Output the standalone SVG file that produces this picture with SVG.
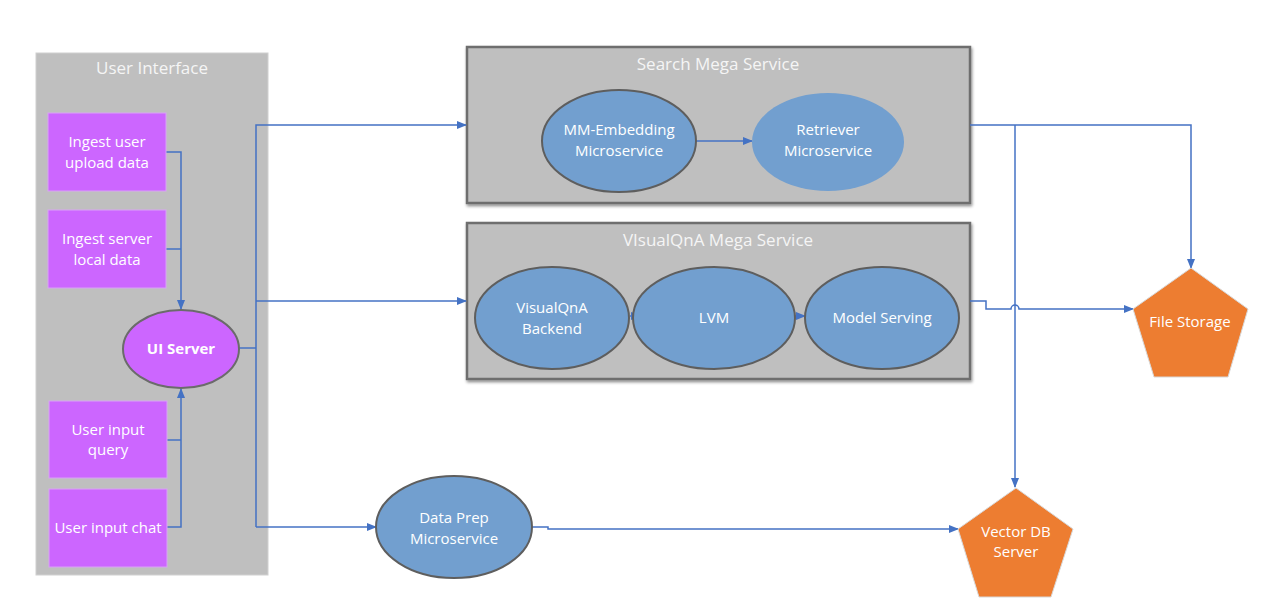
<svg xmlns="http://www.w3.org/2000/svg" width="1286" height="615" viewBox="0 0 1286 615">
<defs>
<marker id="arr" markerWidth="10" markerHeight="8" refX="9" refY="4" orient="auto" markerUnits="userSpaceOnUse">
<path d="M0,0 L10,4 L0,8 Z" fill="#4472c4"/>
</marker>
<filter id="sh" x="-5%" y="-5%" width="110%" height="115%">
<feDropShadow dx="1" dy="2" stdDeviation="1.5" flood-color="#000" flood-opacity="0.45"/>
</filter>
</defs>
<style>
text{font-family:"Open Sans","Liberation Sans",sans-serif;fill:#ffffff;text-anchor:middle;font-size:15px}
.title{font-size:17px;fill:#f5f5f5}
.panel{fill:#bfbfbf;stroke:#d0d0d0;stroke-width:1}
.mega{fill:#bfbfbf;stroke:#6e6e6e;stroke-width:2.5}
.purple{fill:#cc66ff;stroke:#d9a3f5;stroke-width:1}
.ms{fill:#729fcf;stroke:#5e5e5e;stroke-width:2}
.ms2{fill:#729fcf}
.store{fill:#ed7d31;stroke:#d8d8d8;stroke-width:1}
.c{fill:none;stroke:#4472c4;stroke-width:1.5}
</style>
<rect width="1286" height="615" fill="#ffffff"/>

<g id="user-interface">
<rect class="panel" x="36" y="53" width="232" height="522"/>
<text class="title" x="152" y="74">User Interface</text>
</g>
<g id="search-mega-service">
<rect class="mega" x="467" y="47" width="503" height="156" filter="url(#sh)"/>
<text class="title" x="718" y="70">Search Mega Service</text>
</g>
<g id="visualqna-mega-service">
<rect class="mega" x="467" y="223" width="503" height="156" filter="url(#sh)"/>
<text class="title" x="718" y="246">VIsualQnA Mega Service</text>
</g>

<g id="connectors">
<polyline class="c" points="166,152 181,152 181,309" marker-end="url(#arr)"/>
<polyline class="c" points="166,249 181,249"/>
<polyline class="c" points="167,527 181,527 181,389" marker-end="url(#arr)"/>
<polyline class="c" points="167,440 181,440"/>
<polyline class="c" points="239,348 256,348"/>
<polyline class="c" points="256,527 256,125 466,125" marker-end="url(#arr)"/>
<polyline class="c" points="256,301 466,301" marker-end="url(#arr)"/>
<polyline class="c" points="256,527 376,527" marker-end="url(#arr)"/>
<polyline class="c" points="696,141 752,141" marker-end="url(#arr)"/>
<polyline class="c" points="630,316 640,316" marker-end="url(#arr)"/>
<polyline class="c" points="795,316 805,316" marker-end="url(#arr)"/>
<polyline class="c" points="970,125 1191,125 1191,268" marker-end="url(#arr)"/>
<polyline class="c" points="1015,125 1015,487" marker-end="url(#arr)"/>
<path class="c" d="M970,301 H986 V309 H1011 A4,4 0 0 1 1019,309 H1133" marker-end="url(#arr)"/>
<polyline class="c" points="532,527 548,527 548,529 958,529" marker-end="url(#arr)"/>
</g>

<g id="ingest-user-upload">
<rect class="purple" x="48" y="113" width="118" height="78"/>
<text x="107" y="147">Ingest user</text>
<text x="107" y="168">upload data</text>
</g>
<g id="ingest-server-local">
<rect class="purple" x="48" y="210" width="118" height="78"/>
<text x="107" y="244">Ingest server</text>
<text x="107" y="265">local data</text>
</g>
<g id="ui-server">
<ellipse cx="181" cy="349" rx="58" ry="39" fill="#cc66ff" stroke="#6b6b6b" stroke-width="2"/>
<text x="181" y="354" style="font-weight:bold">UI Server</text>
</g>
<g id="user-input-query">
<rect class="purple" x="49" y="401" width="118" height="77"/>
<text x="108" y="435">User input</text>
<text x="108" y="455">query</text>
</g>
<g id="user-input-chat">
<rect class="purple" x="49" y="489" width="118" height="78"/>
<text x="108" y="533">User input chat</text>
</g>

<g id="mm-embedding">
<ellipse class="ms" cx="619" cy="141" rx="77" ry="51"/>
<text x="619" y="135">MM-Embedding</text>
<text x="619" y="156">Microservice</text>
</g>
<g id="retriever">
<ellipse class="ms2" cx="828" cy="142" rx="76" ry="49"/>
<text x="828" y="135">Retriever</text>
<text x="828" y="156">Microservice</text>
</g>

<g id="visualqna-backend">
<ellipse class="ms" cx="552" cy="318" rx="77" ry="51"/>
<text x="552" y="313">VisualQnA</text>
<text x="552" y="334">Backend</text>
</g>
<g id="lvm">
<ellipse class="ms" cx="714" cy="318" rx="81" ry="51"/>
<text x="714" y="323">LVM</text>
</g>
<g id="model-serving">
<ellipse class="ms" cx="882" cy="318" rx="77" ry="51"/>
<text x="882" y="323">Model Serving</text>
</g>

<g id="data-prep">
<ellipse class="ms" cx="454" cy="527" rx="78" ry="51"/>
<text x="454" y="523">Data Prep</text>
<text x="454" y="544">Microservice</text>
</g>

<g id="file-storage">
<polygon class="store" points="1191,268 1248,309 1228,377 1154,377 1133,309"/>
<text x="1190" y="327">File Storage</text>
</g>
<g id="vector-db">
<polygon class="store" points="1016,488 1073,529 1051,597 979,597 958,529"/>
<text x="1016" y="537">Vector DB</text>
<text x="1016" y="557">Server</text>
</g>
</svg>
